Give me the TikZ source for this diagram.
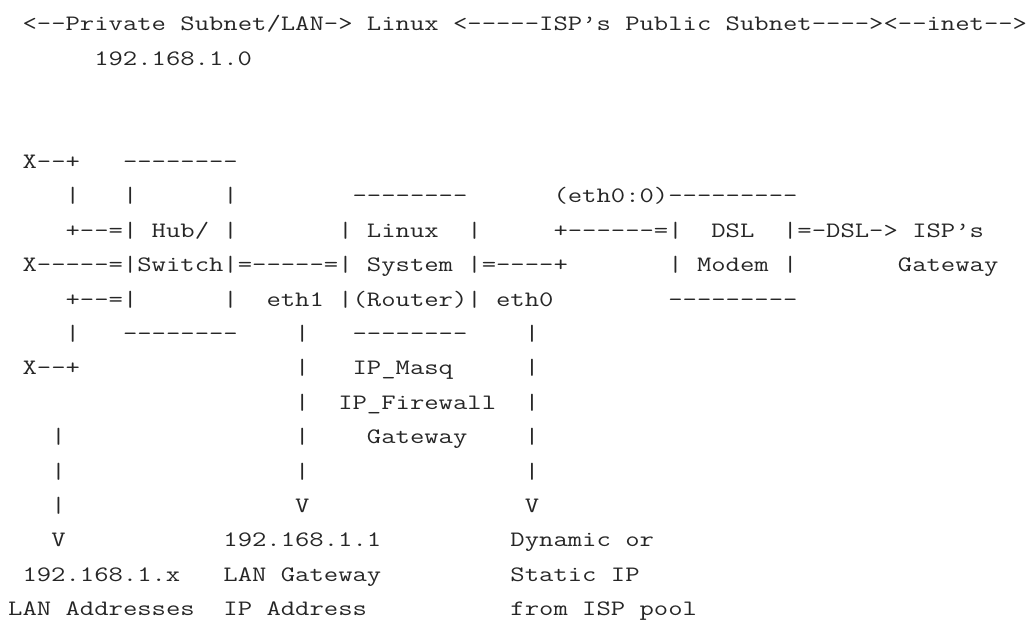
\documentclass[tikz,border=0pt]{standalone}
\usepackage{fontspec}
\usepackage{graphicx}
\newlength\cwid
\newcommand\atok[4]{\node[tt] (#1) at ({8.2+14.35*(#2)},{-(30.9+34.4*(#3))}) {\scalebox{\sx}[1]{#4}};}
\begin{document}
\settowidth{\cwid}{\ttfamily\fontsize{22}{22}\selectfont M}%
\pgfmathsetmacro\sx{14.35/\cwid}%
\begin{tikzpicture}[x=1pt,y=1pt]
\tikzset{tt/.style={anchor=base west, inner sep=0pt, outer sep=0pt, text=black!85, font=\ttfamily\fontsize{22}{22}\selectfont}}
\useasboundingbox (0,0) rectangle (1028,-620);
% row 0
\atok{r0a}{1}{0}{<--Private Subnet/LAN->}
\atok{r0b}{25}{0}{Linux}
\atok{r0c}{31}{0}{<-----ISP’s Public Subnet----><--inet-->}
% row 1
\atok{r1a}{6}{1}{192.168.1.0}
% row 4
\atok{r4a}{1}{4}{X--+}
\atok{r4b}{8}{4}{--------}
% row 5
\atok{r5a}{4}{5}{|}
\atok{r5b}{8}{5}{|}
\atok{r5c}{15}{5}{|}
\atok{r5d}{24}{5}{--------}
\atok{r5e}{38}{5}{(eth0:0)---------}
% row 6
\atok{r6a}{4}{6}{+--=| Hub/ |}
\atok{r6b}{23}{6}{|}
\atok{r6c}{25}{6}{Linux}
\atok{r6d}{32}{6}{|}
\atok{r6e}{38}{6}{+------=|}
\atok{r6f}{49}{6}{DSL}
\atok{r6g}{54}{6}{|=-DSL-> ISP’s}
% row 7
\atok{r7a}{1}{7}{X-----=|Switch|=-----=|}
\atok{r7b}{25}{7}{System}
\atok{r7c}{32}{7}{|=----+}
\atok{r7d}{46}{7}{| Modem |}
\atok{r7e}{62}{7}{Gateway}
% row 8
\atok{r8a}{4}{8}{+--=|}
\atok{r8b}{15}{8}{|}
\atok{r8c}{18}{8}{eth1}
\atok{r8d}{23}{8}{|(Router)| eth0}
\atok{r8e}{46}{8}{---------}
% row 9
\atok{r9a}{4}{9}{|}
\atok{r9b}{8}{9}{--------}
\atok{r9c}{20}{9}{|}
\atok{r9d}{24}{9}{--------}
\atok{r9e}{36}{9}{|}
% row 10
\atok{r10a}{1}{10}{X--+}
\atok{r10b}{20}{10}{|}
\atok{r10c}{24}{10}{IP\_Masq}
\atok{r10d}{36}{10}{|}
% row 11
\atok{r11a}{20}{11}{|}
\atok{r11b}{23}{11}{IP\_Firewall}
\atok{r11c}{36}{11}{|}
% row 12
\atok{r12a}{3}{12}{|}
\atok{r12b}{20}{12}{|}
\atok{r12c}{25}{12}{Gateway}
\atok{r12d}{36}{12}{|}
% row 13
\atok{r13a}{3}{13}{|}
\atok{r13b}{20}{13}{|}
\atok{r13c}{36}{13}{|}
% row 14
\atok{r14a}{3}{14}{|}
\atok{r14b}{20}{14}{V}
\atok{r14c}{36}{14}{V}
% row 15
\atok{r15a}{3}{15}{V}
\atok{r15b}{15}{15}{192.168.1.1}
\atok{r15c}{35}{15}{Dynamic or}
% row 16
\atok{r16a}{1}{16}{192.168.1.x}
\atok{r16b}{15}{16}{LAN Gateway}
\atok{r16c}{35}{16}{Static IP}
% row 17
\atok{r17a}{0}{17}{LAN Addresses}
\atok{r17b}{15}{17}{IP Address}
\atok{r17c}{35}{17}{from ISP pool}
\end{tikzpicture}
\end{document}
